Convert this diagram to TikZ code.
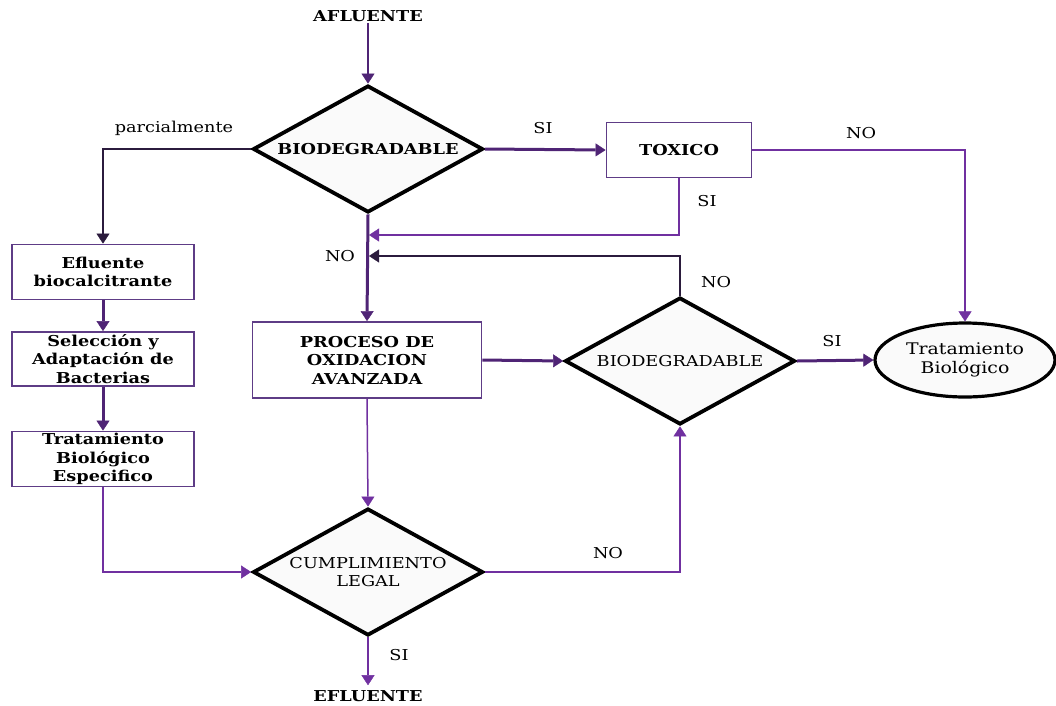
\documentclass[tikz,border=0pt]{standalone}
\usepackage{fontspec}
\setmainfont[FakeStretch=1.18]{DejaVu Serif}
\usetikzlibrary{shapes.geometric,arrows.meta}
\definecolor{thk}{HTML}{4F2475}
\definecolor{thn}{HTML}{7030A0}
\definecolor{drk}{HTML}{2B1B3D}
\definecolor{bx}{HTML}{5E3C86}
\definecolor{dfill}{HTML}{FAFAFA}
\begin{document}
\begin{tikzpicture}[x=1pt,y=-1pt,
  font=\fontsize{15}{18.5}\selectfont,
  dec/.style={diamond, draw=black, line width=3.8pt, fill=dfill, aspect=1.81, minimum width=230pt, minimum height=127pt, inner sep=0pt, align=center},
  box/.style={draw=bx, line width=1.8pt, fill=white, align=center, inner sep=0pt, font=\fontsize{15}{18.5}\selectfont\bfseries},
  oval/.style={ellipse, draw=black, line width=3.2pt, fill=dfill, minimum width=180pt, minimum height=74pt, inner sep=0pt, align=center},
  lbl/.style={inner sep=1pt},
  tk/.style={color=thk, line width=3pt},
  tn/.style={color=thn, line width=1.5pt},
  dk/.style={color=drk, line width=1.3pt},
  arr/.style={-{Triangle[length=10pt,width=13pt,line width=0.4pt]}}
]
\useasboundingbox (0,0) rectangle (1056,705);

% nodes
\node[lbl, font=\fontsize{15}{18.5}\selectfont\bfseries] (afl) at (368,16) {AFLUENTE};
\node[dec, font=\fontsize{15}{18.5}\selectfont\bfseries] (d1) at (368,149) {BIODEGRADABLE};
\node[box, minimum width=145pt, minimum height=55pt] (tox) at (679,150) {TOXICO};
\node[box, minimum width=182pt, minimum height=55pt] (efl) at (103,272) {Efluente\\biocalcitrante};
\node[box, minimum width=182pt, minimum height=54pt] (sel) at (103,359) {Selección y\\Adaptación de\\Bacterias};
\node[box, minimum width=182pt, minimum height=55pt] (tra) at (103,459) {Tratamiento\\Biológico\\Especifico};
\node[box, minimum width=229pt, minimum height=76pt] (poa) at (367,360) {PROCESO DE\\OXIDACION\\AVANZADA};
\node[dec] (d2) at (680,361) {BIODEGRADABLE};
\node[oval, font=\fontsize{16}{19.5}\selectfont] (ell) at (965,360) {Tratamiento\\Biológico};
\node[dec] (d3) at (368,572) {CUMPLIMIENTO\\LEGAL};
\node[lbl, font=\fontsize{15}{18.5}\selectfont\bfseries] (eflu) at (368,696) {EFLUENTE};

\coordinate (j1) at (369,235);
\coordinate (j2) at (369,256);

% labels
\node[lbl] (l1) at (174,128) {parcialmente};
\node[lbl] (l2) at (543,128) {SI};
\node[lbl] (l3) at (861,133) {NO};
\node[lbl] (l4) at (707,201) {SI};
\node[lbl] (l5) at (340,256) {NO};
\node[lbl] (l6) at (716,282) {NO};
\node[lbl] (l7) at (832,341) {SI};
\node[lbl] (l8) at (608,553) {NO};
\node[lbl] (l9) at (399,655) {SI};

% connectors
\draw[tk, line width=2.5pt, arr] (afl.south) -- (d1.north);
\draw[dk, arr] (d1.west) -| (efl.north);
\draw[tk, arr] (d1.east) -- (tox.west);
\draw[tn, arr] (tox.south) |- (j1);
\draw[tn, arr] (tox.east) -| (ell.north);
\draw[tk, arr] (d1.south) -- (poa.north);
\draw[dk, arr] (d2.north) |- (j2);
\draw[tk, arr] (efl.south) -- (sel.north);
\draw[tk, arr] (sel.south) -- (tra.north);
\draw[tn, arr] (tra.south) |- (d3.west);
\draw[tk, arr] (poa.east) -- (d2.west);
\draw[tk, arr] (d2.east) -- (ell.west);
\draw[tn, arr] (poa.south) -- (d3.north);
\draw[tn, arr] (d3.east) -| (d2.south);
\draw[tn, arr, shorten >=4pt] (d3.south) -- (eflu.north);
\end{tikzpicture}
\end{document}
